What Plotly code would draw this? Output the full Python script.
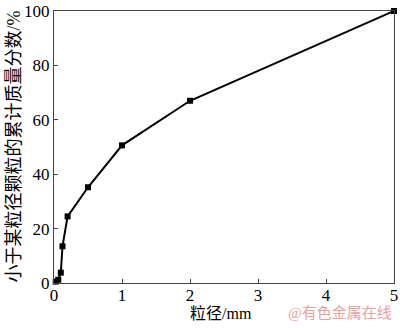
import plotly.graph_objects as go

particle_size_mm = [0.025, 0.063, 0.1, 0.125, 0.2, 0.5, 1, 2, 5]
cumulative_pct = [0.5, 1.2, 3.8, 13.5, 24.5, 35.2, 50.6, 67.0, 100]

x_ticks = [0, 1, 2, 3, 4, 5]
y_ticks = [0, 20, 40, 60, 80, 100]

font_family = "Liberation Serif, Noto Sans CJK SC, serif"

fig = go.Figure()
fig.add_trace(go.Scatter(
    x=particle_size_mm, y=cumulative_pct, mode="lines+markers",
    line=dict(color="black", width=2),
    marker=dict(symbol="square", size=6, color="black"),
    showlegend=False, cliponaxis=False,
))

axis_common = dict(
    showgrid=False, zeroline=False, showline=True, linecolor="#444", linewidth=1,
    mirror=True, ticks="inside", ticklen=4, tickcolor="#444",
    ticklabeloverflow="allow",
    tickfont=dict(family=font_family, size=17, color="black"),
)

fig.update_layout(
    width=400, height=328,
    margin=dict(l=54, r=2, t=7, b=45),
    paper_bgcolor="white", plot_bgcolor="white",
    font=dict(family=font_family, color="black"),
    xaxis=dict(range=[0, 5], tickvals=x_ticks, ticklabelstandoff=-3, **axis_common),
    yaxis=dict(range=[0, 100], tickvals=y_ticks, **axis_common),
    annotations=[
        dict(text="粒径/mm", xref="paper", yref="paper", x=0.49, y=-0.072,
             xanchor="center", yanchor="top", showarrow=False,
             font=dict(family=font_family, size=16, color="black")),
        dict(text="@有色金属在线", xref="paper", yref="paper", x=1.0, y=-0.072,
             xanchor="right", yanchor="top", showarrow=False,
             font=dict(family=font_family, size=15, color="#eba0a0")),
        dict(text="小于某粒径颗粒的累计质量分数/%", xref="paper", yref="paper",
             x=-0.119, y=0.5, xanchor="center", yanchor="middle", textangle=-90,
             showarrow=False, font=dict(family=font_family, size=18, color="black")),
    ],
)

fig.write_html("out.html")
